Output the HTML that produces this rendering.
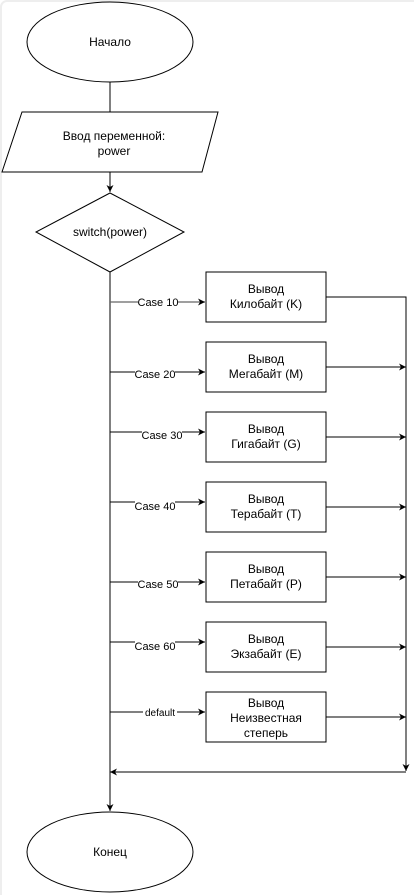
<!DOCTYPE html>
<html><head><meta charset="utf-8"><style>
html,body{margin:0;padding:0;background:#fff;}
svg{display:block;}
text{font-family:"Liberation Sans",Arial,sans-serif;fill:#000;}
</style></head><body>
<svg width="414" height="895" viewBox="0 0 414 895" xmlns="http://www.w3.org/2000/svg">
<defs><marker id="a" markerWidth="8" markerHeight="8" refX="7" refY="4" orient="auto" markerUnits="userSpaceOnUse"><path d="M0,0.5 L7,4 L0,7.5 L2,4 Z" fill="#000"/></marker></defs>
<rect x="1" y="1" width="420" height="900" rx="6" fill="none" stroke="#eee" stroke-width="2"/>
<g fill="none" stroke="#000" stroke-width="1">
<ellipse cx="110" cy="42" rx="83" ry="40" fill="#fff"/>
<line x1="110" y1="82" x2="110" y2="112"/>
<polygon points="22,112 218,112 202,172 2,172" fill="#fff"/>
<line x1="110" y1="172" x2="110" y2="192" marker-end="url(#a)"/>
<polygon points="110,193 184,232 110,272 36,232" fill="#fff"/>
<line x1="110" y1="272" x2="110" y2="811" marker-end="url(#a)"/>
<ellipse cx="110" cy="852" rx="83" ry="40" fill="#fff"/>
<line x1="110" y1="302" x2="205" y2="302" stroke="#666" stroke-width="1.3" marker-end="url(#a)"/>
<line x1="110" y1="372" x2="205" y2="372" marker-end="url(#a)"/>
<line x1="110" y1="432" x2="205" y2="432" marker-end="url(#a)"/>
<line x1="110" y1="502" x2="205" y2="502" marker-end="url(#a)"/>
<line x1="110" y1="582" x2="205" y2="582" marker-end="url(#a)"/>
<line x1="110" y1="642" x2="205" y2="642" marker-end="url(#a)"/>
<line x1="110" y1="712" x2="205" y2="712" marker-end="url(#a)"/>
<rect x="206" y="272" width="120" height="50" fill="#fff"/>
<rect x="206" y="342" width="120" height="50" fill="#fff"/>
<rect x="206" y="412" width="120" height="50" fill="#fff"/>
<rect x="206" y="482" width="120" height="50" fill="#fff"/>
<rect x="206" y="552" width="120" height="50" fill="#fff"/>
<rect x="206" y="622" width="120" height="50" fill="#fff"/>
<rect x="206" y="692" width="120" height="50" fill="#fff"/>
<polyline points="326,297 406,297 406,771" marker-end="url(#a)"/>
<line x1="326" y1="367" x2="406" y2="367" marker-end="url(#a)"/>
<line x1="326" y1="437" x2="406" y2="437" marker-end="url(#a)"/>
<line x1="326" y1="507" x2="406" y2="507" marker-end="url(#a)"/>
<line x1="326" y1="577" x2="406" y2="577" marker-end="url(#a)"/>
<line x1="326" y1="647" x2="406" y2="647" marker-end="url(#a)"/>
<line x1="326" y1="717" x2="406" y2="717" marker-end="url(#a)"/>
<line x1="406" y1="772" x2="110" y2="772" marker-end="url(#a)"/>
</g>
<g font-size="12" text-anchor="middle">
<text x="110" y="46">Начало</text>
<text x="114" y="140">Ввод переменной:</text>
<text x="114" y="155">power</text>
<text x="110" y="236">switch(power)</text>
<text x="110" y="856">Конец</text>
<text x="266" y="293">Вывод</text><text x="266" y="308">Килобайт (K)</text>
<text x="266" y="363">Вывод</text><text x="266" y="378">Мегабайт (M)</text>
<text x="266" y="433">Вывод</text><text x="266" y="448">Гигабайт (G)</text>
<text x="266" y="503">Вывод</text><text x="266" y="518">Терабайт (T)</text>
<text x="266" y="573">Вывод</text><text x="266" y="588">Петабайт (P)</text>
<text x="266" y="643">Вывод</text><text x="266" y="658">Экзабайт (E)</text>
<text x="266" y="707">Вывод</text><text x="266" y="722">Неизвестная</text><text x="266" y="737">степерь</text>
</g>
<g font-size="11" text-anchor="middle">
<rect x="138" y="296" width="40" height="12" fill="#fff"/><text x="158" y="306">Case 10</text>
<rect x="135" y="368" width="40" height="12" fill="#fff"/><text x="155" y="378">Case 20</text>
<rect x="142" y="428" width="40" height="12" fill="#fff"/><text x="162" y="439">Case 30</text>
<rect x="135" y="499" width="40" height="12" fill="#fff"/><text x="155" y="510">Case 40</text>
<rect x="138" y="578" width="40" height="12" fill="#fff"/><text x="158" y="588">Case 50</text>
<rect x="135" y="640" width="40" height="12" fill="#fff"/><text x="155" y="650">Case 60</text>
<rect x="143" y="706" width="34" height="12" fill="#fff"/><text x="160" y="716" font-size="10">default</text>
</g>
</svg>
</body></html>
